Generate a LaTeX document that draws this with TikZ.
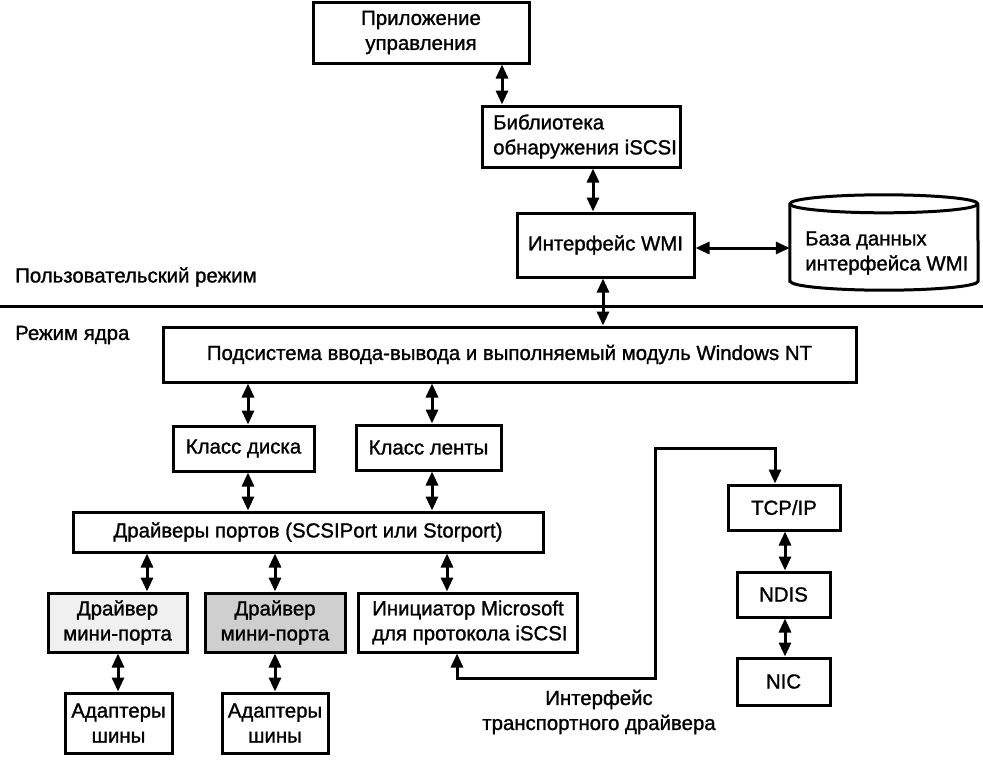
\documentclass[tikz,border=0pt]{standalone}
\usepackage{fontspec}
\setmainfont{Liberation Sans}[RawFeature={embolden=1.2}]
\usetikzlibrary{arrows.meta}
\begin{document}
\begin{tikzpicture}[x=1pt,y=-1pt,
  box/.style={draw,line width=3pt,rectangle,inner sep=0pt,align=center,
    font=\fontsize{20.4}{25}\selectfont},
  lbl/.style={inner sep=0pt,font=\fontsize{20.4}{25}\selectfont},
  dbl/.style={line width=3pt,{Triangle[length=14pt,width=12pt]}-{Triangle[length=14pt,width=12pt]}},
  sgl/.style={line width=3pt,-{Triangle[length=14pt,width=12pt]}}]
\useasboundingbox (0,0) rectangle (983,766);
\fill[white] (0,0) rectangle (983,766);

% user mode
\node[box,minimum width=216pt,minimum height=61pt] (app) at (421,32.5) {Приложение\\управления};
\node[box,minimum width=198pt,minimum height=61pt] (lib) at (581,136.5) {};
\node[lbl,anchor=west,align=left] (libt) at (493,136.5) {Библиотека\\обнаружения iSCSI};
\node[box,minimum width=177pt,minimum height=64pt] (wmi) at (605.5,245) {Интерфейс WMI};

% database cylinder
\node[inner sep=0pt,minimum width=188pt,minimum height=77pt] (db) at (884,242.5) {};
\draw[line width=3pt,fill=white] (db.south west) -- (db.north west)
  arc[start angle=180,end angle=0,x radius=94pt,y radius=9pt] -- (db.south east)
  arc[start angle=0,end angle=-180,x radius=94pt,y radius=9pt] -- cycle;
\draw[line width=3pt] (db.north west) arc[start angle=180,end angle=360,x radius=94pt,y radius=9pt];
\node[lbl,anchor=west,align=left] (dbt) at (805,253) {База данных\\интерфейса WMI};

\coordinate (c502) at (502,0);
\coordinate (c593) at (593,0);
\coordinate (c603) at (603,0);
\coordinate (cy248) at (0,248);
\draw[dbl] (app.south -| c502) -- (lib.north -| c502);
\draw[dbl] (lib.south -| c593) -- (wmi.north -| c593);
\draw[dbl] (wmi.east |- cy248) -- (db.west |- cy248);

% separator
\coordinate (sepL) at (0,306);
\coordinate (sepR) at (983,306);
\draw[line width=3pt] (sepL) -- (sepR);
\node[lbl,anchor=west] (um) at (15,277) {Пользовательский режим};
\node[lbl,anchor=west] (km) at (15,335) {Режим ядра};

% kernel mode
\node[box,minimum width=693pt,minimum height=55pt] (io) at (509.5,354.5) {Подсистема ввода-вывода и выполняемый модуль Windows NT};
\draw[dbl] (wmi.south -| c603) -- (io.north -| c603);

\node[box,minimum width=141pt,minimum height=45pt] (disk) at (243.5,448.5) {Класс диска};
\node[box,minimum width=145pt,minimum height=45pt] (tape) at (428.5,447.5) {Класс ленты};
\node[box,minimum width=470pt,minimum height=40pt] (ports) at (308,532) {Драйверы портов (SCSIPort или Storport)};

\coordinate (c248) at (248,0);
\coordinate (c432) at (432,0);
\draw[dbl] (io.south -| c248) -- (disk.north -| c248);
\draw[dbl] (io.south -| c432) -- (tape.north -| c432);
\draw[dbl] (disk.south -| c248) -- (ports.north -| c248);
\draw[dbl] (tape.south -| c432) -- (ports.north -| c432);

\node[box,fill=gray!12,minimum width=139pt,minimum height=59pt] (mini1) at (117.5,622.5) {Драйвер\\мини-порта};
\node[box,fill=gray!38,minimum width=140pt,minimum height=59pt] (mini2) at (275,622.5) {Драйвер\\мини-порта};
\node[box,minimum width=219pt,minimum height=59pt] (init) at (467.5,622.5) {};
\node[lbl,anchor=west,align=left] (initt) at (372,622.5) {Инициатор Microsoft\\для протокола iSCSI};

\coordinate (c147) at (147,0);
\coordinate (c275) at (275,0);
\coordinate (c447) at (447,0);
\coordinate (c118) at (118,0);
\draw[dbl] (ports.south -| c147) -- (mini1.north -| c147);
\draw[dbl] (ports.south -| c275) -- (mini2.north -| c275);
\draw[dbl] (ports.south -| c447) -- (init.north -| c447);

\node[box,minimum width=107pt,minimum height=60pt] (ad1) at (118.5,723) {Адаптеры\\шины};
\node[box,minimum width=106pt,minimum height=60pt] (ad2) at (275,723) {Адаптеры\\шины};
\draw[dbl] (mini1.south -| c118) -- (ad1.north -| c118);
\draw[dbl] (mini2.south -| c275) -- (ad2.north -| c275);

% network stack
\node[box,minimum width=112pt,minimum height=45pt] (tcp) at (784,507.5) {TCP/IP};
\node[box,minimum width=93pt,minimum height=45pt] (ndis) at (783.5,594.5) {NDIS};
\node[box,minimum width=93pt,minimum height=47pt] (nic) at (783.5,681.5) {NIC};
\coordinate (c785) at (785,0);
\draw[dbl] (tcp.south -| c785) -- (ndis.north -| c785);
\draw[dbl] (ndis.south -| c785) -- (nic.north -| c785);

% transport driver interface
\coordinate (t1) at (457,678);
\coordinate (t2) at (655,678);
\coordinate (t3) at (655,448);
\coordinate (t4) at (775,448);
\draw[dbl,line join=miter] (init.south -| t1) -- (t1) -- (t2) -- (t3) -- (t4) -- (tcp.north -| t4);
\node[lbl,align=center] (tdi) at (599,712) {Интерфейс\\транспортного драйвера};
\end{tikzpicture}
\end{document}
